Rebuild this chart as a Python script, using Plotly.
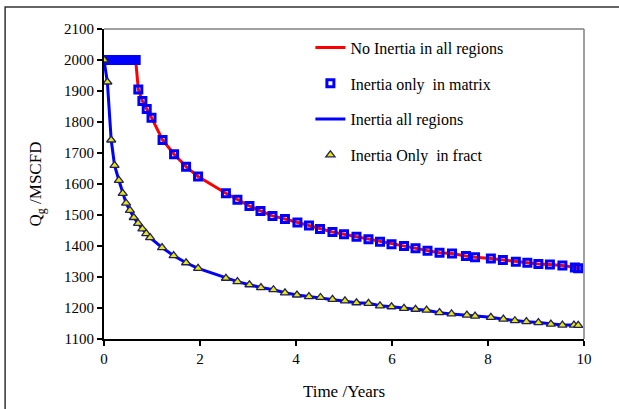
import plotly.graph_objects as go

# "No Inertia in all regions" (red line) and "Inertia only in matrix" (squares)
matrix_t = [0.0, 0.03, 0.06, 0.09, 0.12, 0.15, 0.18, 0.21, 0.24, 0.27, 0.30, 0.33,
            0.36, 0.39, 0.42, 0.45, 0.48, 0.51, 0.54, 0.57, 0.60, 0.63, 0.66,
            0.715, 0.80, 0.89, 0.99, 1.22, 1.46, 1.71, 1.96, 2.54, 2.78, 3.03,
            3.26, 3.51, 3.77, 4.03, 4.27, 4.50, 4.76, 5.00, 5.26, 5.51, 5.75,
            5.99, 6.25, 6.49, 6.74, 6.99, 7.25, 7.54, 7.73, 8.06, 8.31, 8.58,
            8.82, 9.05, 9.29, 9.55, 9.81, 9.88]
matrix_q = [2000, 2000, 2000, 2000, 2000, 2000, 2000, 2000, 2000, 2000, 2000, 2000,
            2000, 2000, 2000, 2000, 2000, 2000, 2000, 2000, 2000, 2000, 2000,
            1905, 1868, 1842, 1814, 1742, 1696, 1656, 1624, 1570, 1549, 1529,
            1513, 1497, 1487, 1476, 1466, 1455, 1445, 1438, 1430, 1422, 1414,
            1406, 1400, 1393, 1385, 1378, 1376, 1368, 1364, 1360, 1355, 1349,
            1346, 1342, 1340, 1337, 1331, 1328]

# "Inertia all regions" (blue line) and "Inertia Only in fract" (triangles)
fract_t = [0.0, 0.07, 0.15, 0.22, 0.31, 0.39, 0.46, 0.54, 0.62, 0.71, 0.80, 0.88,
           0.96, 1.21, 1.45, 1.71, 1.96, 2.54, 2.78, 3.03, 3.27, 3.53, 3.77, 4.02,
           4.27, 4.51, 4.76, 5.02, 5.26, 5.51, 5.75, 5.99, 6.25, 6.49, 6.72, 6.99,
           7.24, 7.56, 7.73, 8.06, 8.32, 8.56, 8.80, 9.05, 9.31, 9.55, 9.79, 9.88]
fract_q = [2000, 1929, 1742, 1660, 1612, 1570, 1538, 1515, 1492, 1473, 1455, 1440,
           1427, 1395, 1369, 1346, 1328, 1296, 1285, 1275, 1266, 1259, 1249, 1242,
           1237, 1234, 1228, 1223, 1217, 1215, 1207, 1204, 1199, 1196, 1193, 1185,
           1181, 1177, 1174, 1170, 1164, 1159, 1156, 1153, 1148, 1145, 1145, 1144]

x_ticks = [0, 2, 4, 6, 8, 10]
y_ticks = [1100, 1200, 1300, 1400, 1500, 1600, 1700, 1800, 1900, 2000, 2100]

FONT = "Liberation Serif"

fig = go.Figure()
fig.add_trace(go.Scatter(x=matrix_t, y=matrix_q, mode="lines", name="No Inertia in all regions",
                         line=dict(color="#ff0000", width=3), legendgroup="a"))
fig.add_trace(go.Scatter(x=matrix_t, y=matrix_q, mode="markers", name="Inertia only  in matrix",
                         marker=dict(symbol="square-open", size=7, color="#0000ff",
                                     line=dict(width=3, color="#0000ff")), legendgroup="b"))
fig.add_trace(go.Scatter(x=fract_t, y=fract_q, mode="lines", name="Inertia all regions",
                         line=dict(color="#0000ff", width=3), legendgroup="c"))
fig.add_trace(go.Scatter(x=fract_t, y=fract_q, mode="markers", name="Inertia Only  in fract",
                         marker=dict(symbol="triangle-up", size=8, color="#e8e800",
                                     line=dict(width=1.3, color="#202060")), legendgroup="d"))

fig.update_layout(
    width=619, height=409,
    margin=dict(l=104, r=35, t=29, b=70),
    paper_bgcolor="white", plot_bgcolor="white",
    font=dict(family=FONT, size=15, color="black"),
    showlegend=True,
    legend=dict(x=0.43, y=0.995, xanchor="left", yanchor="top",
                bgcolor="rgba(0,0,0,0)", tracegroupgap=12,
                font=dict(family=FONT, size=16, color="black")),
    xaxis=dict(range=[0, 10], tickvals=x_ticks, ticks="outside", ticklen=5,
               tickwidth=1.5, tickcolor="black", showline=True, linecolor="black",
               linewidth=2, showgrid=False, zeroline=False,
               title=dict(text="Time /Years", font=dict(family=FONT, size=17), standoff=19),
               tickfont=dict(family=FONT, size=15)),
    yaxis=dict(range=[1100, 2100], tickvals=y_ticks, ticks="outside", ticklen=5,
               tickwidth=1.5, tickcolor="black", showline=True, linecolor="black",
               linewidth=2, showgrid=False, zeroline=False,
               title=dict(text="Q<sub>g</sub> /MSCFD", font=dict(family=FONT, size=17), standoff=18),
               tickfont=dict(family=FONT, size=15)),
    shapes=[
        dict(type="line", xref="paper", yref="paper", x0=0, x1=1, y0=1, y1=1,
             line=dict(color="#808080", width=1.5)),
        dict(type="line", xref="paper", yref="paper", x0=1, x1=1, y0=0, y1=1,
             line=dict(color="#808080", width=1.5)),
        dict(type="rect", xref="paper", yref="paper", x0=-0.206, x1=1.2, y0=-0.3, y1=1.071,
             line=dict(color="#333333", width=1.5), fillcolor="rgba(0,0,0,0)", layer="below"),
    ],
)

fig.write_html("out.html", config={"displayModeBar": False},
               post_script="document.body.style.margin='0';document.body.style.padding='0';"
                           "document.body.style.overflow='hidden';")
